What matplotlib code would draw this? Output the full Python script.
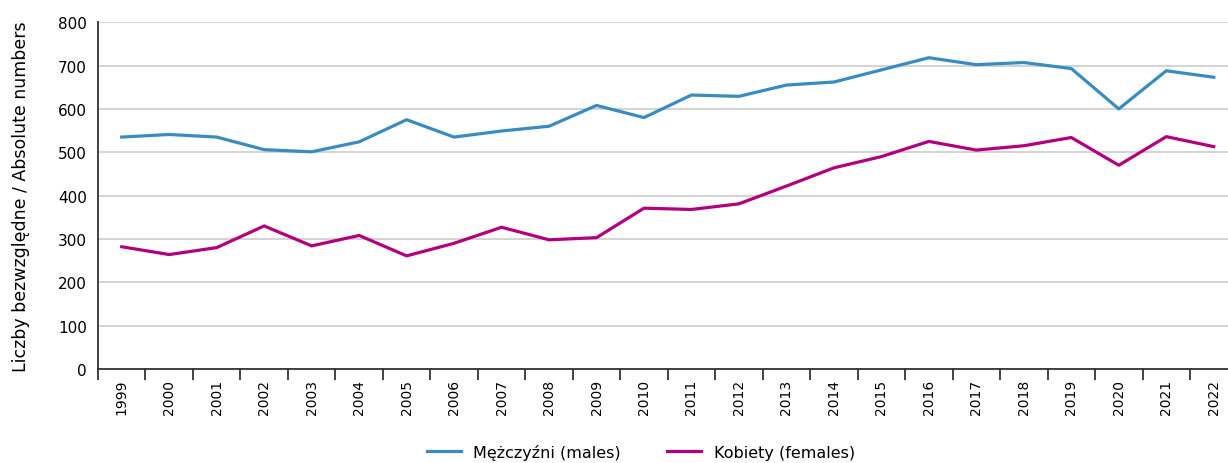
import matplotlib.pyplot as plt
import numpy as np

years = [str(y) for y in range(1999, 2023)]
males = [535, 541, 535, 506, 501, 524, 575, 535, 549, 560, 608, 580,
         632, 629, 655, 662, 690, 718, 702, 707, 693, 600, 688, 673]
females = [282, 264, 280, 330, 284, 308, 261, 290, 327, 298, 303, 371,
           368, 381, 422, 464, 490, 525, 505, 515, 534, 470, 536, 513]

plt.rcParams['font.family'] = ['DejaVu Sans Condensed', 'DejaVu Sans']

fig = plt.figure(figsize=(12.28, 4.64), dpi=100)
ax = fig.add_axes([0.0798, 0.2026, 0.9202, 0.7474])

x = np.arange(len(years))
ax.plot(x, males, color="#3a8bc0", lw=2.3, label="Mężczyźni (males)")
ax.plot(x, females, color="#b0007f", lw=2.3, label="Kobiety (females)")

ax.set_ylim(0, 800)
ax.set_yticks(range(0, 801, 100))
ax.set_xlim(-0.5, 23.3)
ax.set_xticks(np.arange(-0.5, 23, 1))
ax.set_xticklabels([])
ax.set_xticks(x, minor=True)
ax.set_xticklabels(years, minor=True, rotation=90, fontsize=10)
ax.tick_params(axis="x", which="major", length=8, width=1.3, color="#333333", direction="out")
ax.tick_params(axis="x", which="minor", length=0, pad=7)
ax.tick_params(axis="y", length=0, labelsize=11, pad=8)

ax.grid(axis="y", color="#cccccc", lw=1.2)
ax.set_axisbelow(True)
for s in ["top", "right"]:
    ax.spines[s].set_visible(False)
for s in ["left", "bottom"]:
    ax.spines[s].set_color("#333333")
    ax.spines[s].set_linewidth(1.3)

ax.set_ylabel("Liczby bezwzględne / Absolute numbers", fontsize=12.5, labelpad=20)

fig.legend(loc="lower center", bbox_to_anchor=(0.522, -0.024), ncol=2, frameon=False,
           fontsize=11.5, handlelength=2.1, handletextpad=0.8, columnspacing=2.9)

fig.savefig("out.png", dpi=100)
